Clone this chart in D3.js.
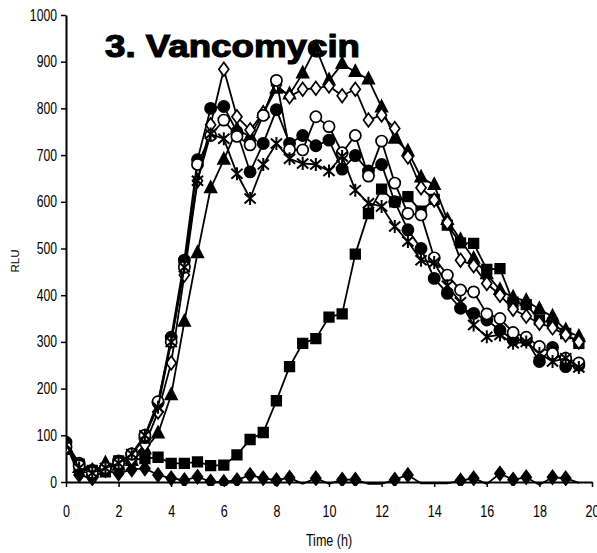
<!DOCTYPE html>
<html>
<head>
<meta charset="utf-8">
<script src="https://cdn.jsdelivr.net/npm/d3@7/dist/d3.min.js"></script>
<style>
  body { margin: 0; background: #fff; }
  text { font-family: "Liberation Sans", Arial, sans-serif; fill: #000; }
</style>
</head>
<body>
<svg id="chart" width="597" height="553"></svg>
<script>
// sampling times (h)
const hours = [0, 0.5, 1, 1.5, 2, 2.5, 3, 3.5, 4, 4.5, 5, 5.5, 6, 6.5, 7, 7.5, 8, 8.5, 9, 9.5,
               10, 10.5, 11, 11.5, 12, 12.5, 13, 13.5, 14, 14.5, 15, 15.5, 16, 16.5, 17, 17.5, 18, 18.5, 19, 19.5];

// luminescence readings (RLU), one array per curve
const diamondFilled = [80, 15, 8, 25, 18, 27, 29, 15, 8, 4, 11, 1, 0, 4, 15, 8, 4, 9, -4, 8,
                       -4, 5, 5, -4, -4, 5, 15, -3, -3, -3, 3, 8, -4, 18, 5, 10, -6, 10, 8, -2];
const squareFilled = [70, 38, 25, 22, 45, 48, 50, 53, 40, 40, 43, 35, 36, 58, 91, 106, 174, 247, 297, 307,
                      353, 360, 488, 575, 627, 600, 611, 580, 605, 550, 512, 511, 455, 457, 385, 380, 347, 340, 318, 297];
const triangleFilled = [75, 30, 20, 40, 35, 45, 70, 104, 186, 343, 490, 629, 690, 755, 740, 790, 842, 830, 875, 930,
                        860, 895, 878, 862, 802, 735, 708, 652, 636, 561, 518, 478, 445, 411, 395, 388, 370, 354, 325, 311];
const diamondOpen = [80, 35, 25, 30, 40, 50, 80, 150, 255, 443, 645, 765, 884, 782, 754, 790, 850, 825, 841, 843,
                     848, 827, 841, 775, 786, 757, 696, 630, 604, 555, 475, 463, 425, 400, 370, 355, 340, 330, 315, 300];
const circleFilled = [85, 40, 25, 30, 45, 60, 95, 170, 310, 475, 690, 800, 804, 750, 664, 725, 797, 725, 742, 720,
                      732, 670, 699, 666, 680, 600, 540, 500, 436, 404, 372, 361, 347, 325, 304, 304, 258, 288, 247, 250];
const circleOpen = [75, 35, 20, 30, 40, 60, 100, 172, 300, 460, 680, 742, 775, 740, 722, 785, 860, 712, 711, 782,
                    761, 705, 742, 655, 730, 640, 575, 572, 480, 443, 411, 407, 360, 350, 320, 310, 290, 275, 265, 255];
const starMarked = [80, 30, 20, 30, 40, 60, 100, 160, 300, 460, 645, 745, 735, 660, 607, 680, 725, 692, 682, 680,
                    666, 697, 625, 597, 590, 547, 515, 475, 470, 420, 385, 336, 311, 315, 297, 300, 275, 258, 265, 245];

const yTicks = [0, 100, 200, 300, 400, 500, 600, 700, 800, 900, 1000];
const xTicks = [0, 2, 4, 6, 8, 10, 12, 14, 16, 18, 20];

const series = [
  { values: diamondFilled, shape: "diamond", open: false },
  { values: squareFilled, shape: "square", open: false },
  { values: triangleFilled, shape: "triangle", open: false },
  { values: diamondOpen, shape: "diamond", open: true },
  { values: circleFilled, shape: "circle", open: false },
  { values: circleOpen, shape: "circle", open: true },
  { values: starMarked, shape: "star", open: false }
];

const svg = d3.select("#chart");
const plotLeft = 66, plotRight = 592, plotTop = 15, plotBottom = 482;

const x = d3.scaleLinear().domain([0, 20]).range([plotLeft, plotRight]);
const y = d3.scaleLinear().domain([0, 1000]).range([plotBottom, plotTop]);

// marker outlines, centred on 0,0
function markerPath(shape) {
  switch (shape) {
    case "circle": return "M5.6,0A5.6,5.6 0 1,1 -5.6,0A5.6,5.6 0 1,1 5.6,0Z";
    case "square": return "M-4.8,-4.8H4.8V4.8H-4.8Z";
    case "triangle": return "M0,-7L5.8,4.2H-5.8Z";
    case "diamond": return "M0,-6.8L5,0L0,6.8L-5,0Z";
    case "star": return "M0,-6.5V6.5M-5.6,-5L5.6,5M-5.6,5L5.6,-5";
  }
}

svg.append("defs").append("clipPath").attr("id", "plotClip")
  .append("rect")
  .attr("x", plotLeft).attr("y", plotTop - 10)
  .attr("width", plotRight - plotLeft + 6).attr("height", plotBottom - plotTop + 14);

// axes
const yAxis = svg.append("g")
  .attr("transform", `translate(${plotLeft},0)`)
  .call(d3.axisLeft(y).tickValues(yTicks).tickSize(5).tickSizeOuter(0).tickFormat(d3.format("d")));
yAxis.select(".domain").attr("stroke-width", 2);
yAxis.selectAll(".tick line").attr("stroke-width", 1.5);
yAxis.selectAll(".tick text")
  .attr("font-size", 16.5)
  .attr("x", null).attr("dy", null)
  .attr("transform", "translate(-9,5) scale(0.74,1)");

const xAxis = svg.append("g")
  .attr("transform", `translate(0,${plotBottom})`)
  .call(d3.axisBottom(x).tickValues(xTicks).tickSize(5).tickSizeOuter(0).tickFormat(d3.format("d")));
xAxis.select(".domain").attr("stroke-width", 2);
xAxis.selectAll(".tick line").attr("stroke-width", 1.5);
xAxis.selectAll(".tick text")
  .attr("font-size", 16.5)
  .attr("y", null).attr("dy", null)
  .attr("transform", "translate(0,35) scale(0.76,1)");

svg.selectAll(".tick text").attr("font-family", "'Liberation Sans', Arial, sans-serif").attr("fill", "#000");

// curves
const line = d3.line().x((d, i) => x(hours[i])).y(d => y(d));
const plot = svg.append("g").attr("clip-path", "url(#plotClip)");

series.forEach(s => {
  plot.append("path")
    .datum(s.values)
    .attr("fill", "none")
    .attr("stroke", "#000")
    .attr("stroke-width", 1.8)
    .attr("d", line);

  plot.selectAll(null)
    .data(s.values.map((v, i) => ({ t: hours[i], v })).filter(d => d.v >= 0))
    .enter().append("path")
    .attr("transform", d => `translate(${x(d.t)},${y(d.v)})`)
    .attr("d", markerPath(s.shape))
    .attr("fill", s.shape === "star" ? "none" : (s.open ? "#fff" : "#000"))
    .attr("stroke", "#000")
    .attr("stroke-width", s.shape === "star" ? 2 : 1.7);
});

// labels
svg.append("text")
  .attr("x", 105).attr("y", 57)
  .attr("font-family", "'DejaVu Sans', Arial, sans-serif")
  .attr("font-weight", "bold")
  .attr("font-size", 32)
  .attr("stroke", "#000")
  .attr("stroke-width", 1.2)
  .attr("textLength", 255)
  .attr("lengthAdjust", "spacingAndGlyphs")
  .text("3. Vancomycin");

svg.append("text")
  .attr("transform", "translate(329,546) scale(0.76,1)")
  .attr("text-anchor", "middle")
  .attr("font-size", 16.5)
  .text("Time (h)");

svg.append("text")
  .attr("transform", "translate(19,261) rotate(-90)")
  .attr("text-anchor", "middle")
  .attr("font-size", 11.5)
  .text("RLU");
</script>
</body>
</html>
